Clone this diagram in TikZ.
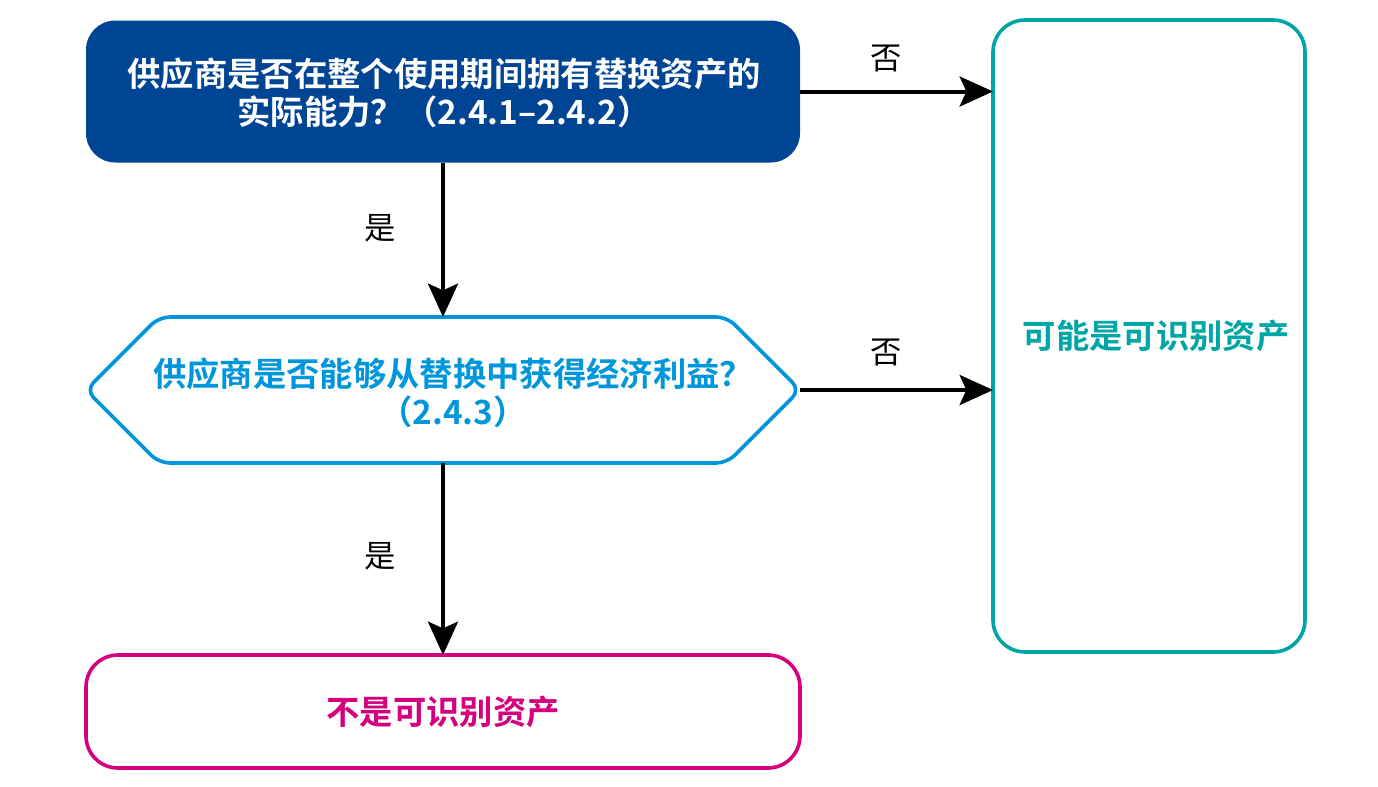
\documentclass[tikz,border=0pt]{standalone}
\usepackage{fontspec}
\newfontfamily\cjk{Noto Sans CJK SC}[BoldFont={Noto Sans CJK SC Bold}]
\usetikzlibrary{arrows.meta}
\definecolor{dblue}{RGB}{0,68,148}
\definecolor{hexblue}{RGB}{0,150,219}
\definecolor{tealc}{RGB}{0,166,166}
\definecolor{magc}{RGB}{212,0,127}
\begin{document}
\begin{tikzpicture}[x=0.75pt,y=-0.75pt,
  every node/.style={inner sep=0pt, outer sep=0pt},
  boxtext/.style={font=\cjk\bfseries\fontsize{25}{28.8}\selectfont, align=center},
  lbl/.style={font=\cjk\fontsize{23.5}{28}\selectfont},
  arr/.style={line width=3pt, -{Stealth[length=25pt,width=22.5pt,inset=5pt]}},
  bd/.style={line width=2.7pt}]
\useasboundingbox (0,0) rectangle (1378,786);
% top question
\node[fill=dblue, rounded corners=22pt, minimum width=535.5pt, minimum height=106.5pt] (q1) at (443,91.5) {};
\node[boxtext, text=white] (q1t) at (444,93) {供应商是否在整个使用期间拥有替换资产的\\实际能力？（2.4.1–2.4.2）};
% right box
\node[draw=tealc, bd, rounded corners=24pt, minimum width=234pt, minimum height=474pt] (r) at (1149,336) {};
\node[boxtext, text=tealc] (rt) at (1156,336) {可能是可识别资产};
% hexagon
\draw[hexblue, bd, rounded corners=8pt] (86,390) -- (159,317) -- (727,317) -- (800,390) -- (727,463) -- (159,463) -- cycle;
\node[minimum width=535.5pt, minimum height=109.5pt] (q2) at (443,390) {};
\node[boxtext, text=hexblue] (q2t) at (453,393) {供应商是否能够从替换中获得经济利益？\\（2.4.3）};
% bottom box
\node[draw=magc, bd, rounded corners=24pt, minimum width=535.5pt, minimum height=84.75pt, text=magc, boxtext] (b) at (443,711.5) {不是可识别资产};
% arrows
\draw[arr] (q1.east) -- (q1.east -| r.west);
\draw[arr] (q2.east) -- (q2.east -| r.west);
\draw[arr] (q1.south) -- (q2.north);
\draw[arr] (q2.south) -- (b.north);
% labels
\node[lbl] (n1) at (886,58) {否};
\node[lbl] (n2) at (886,352) {否};
\node[lbl] (y1) at (380,228) {是};
\node[lbl] (y2) at (380,556) {是};
\end{tikzpicture}
\end{document}
